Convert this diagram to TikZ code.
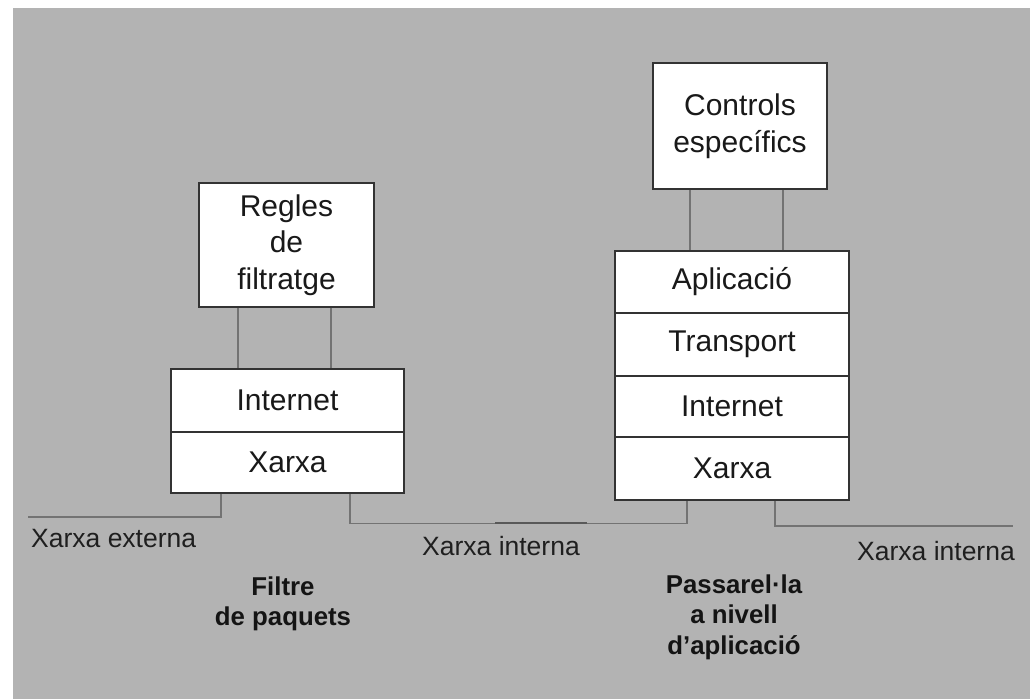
\documentclass[tikz,border=0pt]{standalone}
\usepackage{fontspec}
\setmainfont{Liberation Sans}
\begin{document}
\begin{tikzpicture}[x=1pt,y=-1pt,
  box/.style={draw=black!80, line width=1.6pt, fill=white, inner sep=0pt, align=center,
    text=black!90, font=\fontsize{30}{36.5}\selectfont},
  conn/.style={draw=black!55, line width=1.1pt},
  connd/.style={draw=black!65, line width=2pt},
  netlbl/.style={inner sep=0pt, anchor=base west, text=black!88, font=\fontsize{26.5}{30}\selectfont},
  boldlbl/.style={inner sep=0pt, align=center, text=black!92, font=\fontsize{25.8}{30.5}\selectfont\bfseries}]
\useasboundingbox (0,0) rectangle (1030,699);
\fill[white] (0,0) rectangle (1030,699);
\fill[fill={rgb,255:red,179;green,179;blue,179}] (13,8) rectangle (1030,699);

% left: packet filter
\node[box, minimum width=175, minimum height=124] (regles) at (286.5,245) {Regles\\de\\filtratge};
\node[box, minimum width=233, minimum height=63] (lint) at (287.5,400.5) {Internet};
\node[box, minimum width=233, minimum height=61] (lxar) at (287.5,462.5) {Xarxa};

% right: application gateway
\node[box, minimum width=174, minimum height=126] (ctrl) at (740,126) {Controls\\específics};
\node[box, minimum width=234, minimum height=62] (rapl) at (732,282) {Aplicació};
\node[box, minimum width=234, minimum height=63] (rtra) at (732,344.5) {Transport};
\node[box, minimum width=234, minimum height=61] (rint) at (732,406.5) {Internet};
\node[box, minimum width=234, minimum height=63] (rxar) at (732,468.5) {Xarxa};

% vertical links to the rule boxes
\draw[conn] ([xshift=-48.5pt]regles.south) -- ([xshift=-48.5pt]regles.south |- lint.north);
\draw[conn] ([xshift=44.5pt]regles.south) -- ([xshift=44.5pt]regles.south |- lint.north);
\draw[conn] ([xshift=-50pt]ctrl.south) -- ([xshift=-50pt]ctrl.south |- rapl.north);
\draw[conn] ([xshift=43pt]ctrl.south) -- ([xshift=43pt]ctrl.south |- rapl.north);

% network connectors
\coordinate (extL) at (28,517);
\coordinate (extR) at (1013,526);
\coordinate (segA) at (495,523);
\coordinate (segB) at (587,523);
\draw[conn] ([xshift=-66.5pt]lxar.south) |- (extL);
\draw[conn] ([xshift=62.5pt]lxar.south) -- ++(0,30) -| ([xshift=-45pt]rxar.south);
\draw[connd] (segA) -- (segB);
\draw[conn] ([xshift=43pt]rxar.south) |- (extR);

% labels
\node[netlbl] (lext) at (31,547) {Xarxa externa};
\node[netlbl] (lmid) at (422,555) {Xarxa interna};
\node[netlbl] (lrig) at (857,560) {Xarxa interna};
\node[boldlbl] (filtre) at (283,604) {Filtre\\de paquets};
\node[boldlbl] (pass) at (734,617) {Passarel·la\\a nivell\\d’aplicació};
\end{tikzpicture}
\end{document}
